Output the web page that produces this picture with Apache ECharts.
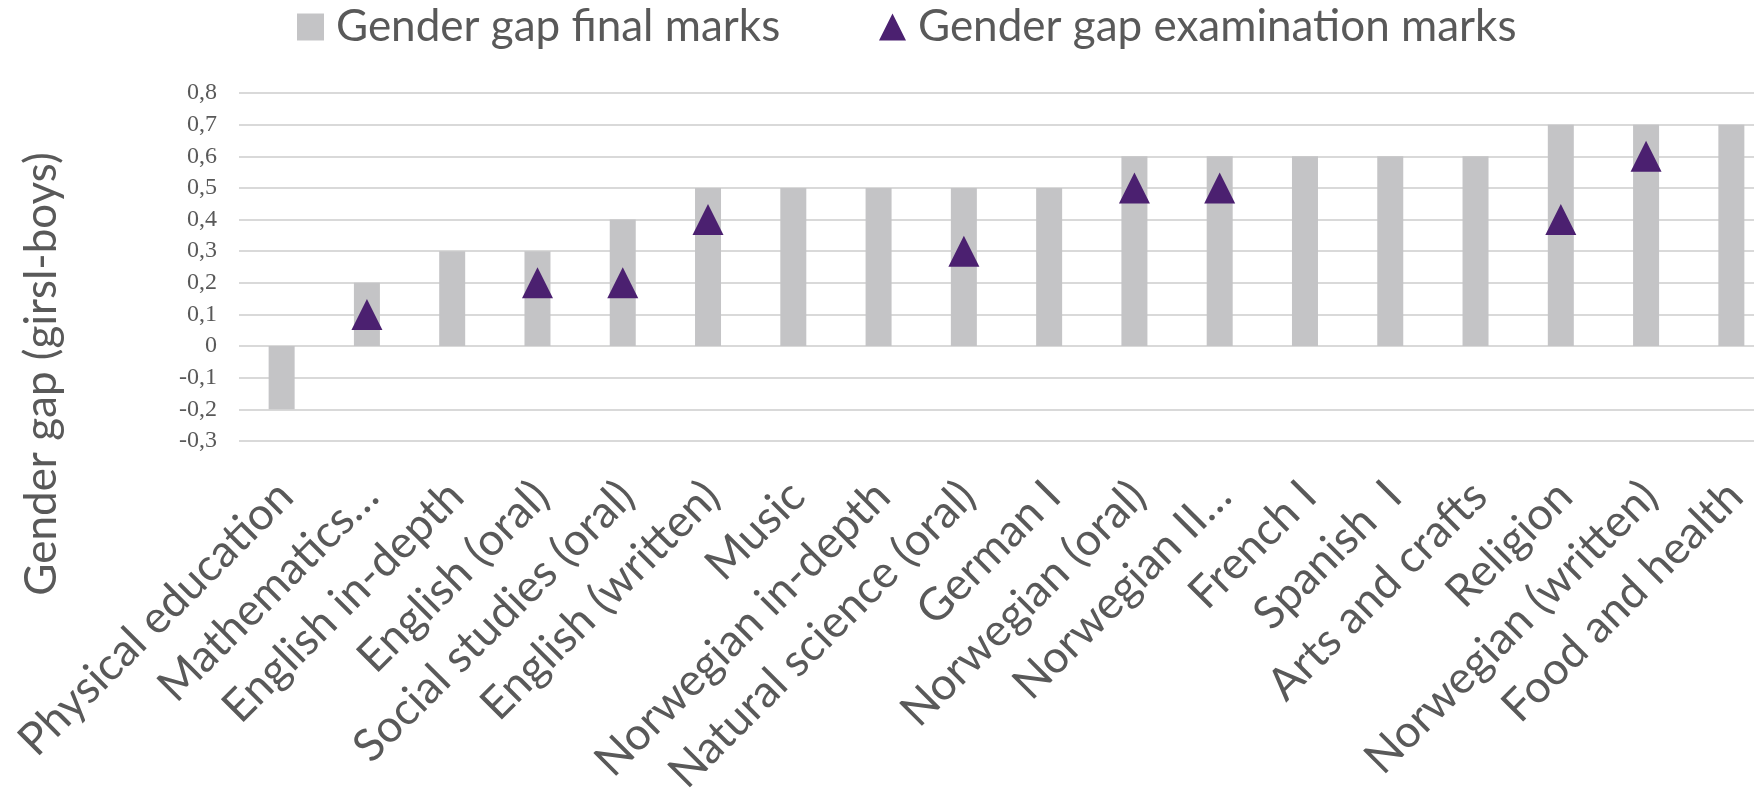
<!DOCTYPE html>
<html>
<head>
<meta charset="utf-8">
<script src="https://cdn.jsdelivr.net/npm/echarts@6/dist/echarts.min.js"></script>
<style>
  html, body { margin: 0; padding: 0; background: #fff; }
  #chart { width: 1754px; height: 796px; }
</style>
</head>
<body>
<div id="chart"></div>
<script>
var subjects = [
  "Physical education", "Mathematics…", "English in-depth", "English (oral)",
  "Social studies (oral)", "English (written)", "Music", "Norwegian in-depth",
  "Natural science (oral)", "German I", "Norwegian (oral)", "Norwegian II…",
  "French I", "Spanish  I", "Arts and crafts", "Religion",
  "Norwegian (written)", "Food and health"
];
var finalMarks = [-0.2, 0.2, 0.3, 0.3, 0.4, 0.5, 0.5, 0.5, 0.5, 0.5, 0.6, 0.6, 0.6, 0.6, 0.6, 0.7, 0.7, 0.7];
var examMarks = [null, 0.1, null, 0.2, 0.2, 0.4, null, null, 0.3, null, 0.5, 0.5, null, null, null, 0.4, 0.6, null];

var textColor = "#595959";
var sans = "Lato";

var chart = echarts.init(document.getElementById("chart"));
chart.setOption({
  animation: false,
  legend: [
    {
      left: 297, top: 5, padding: 0,
      itemWidth: 27, itemHeight: 27,
      icon: "rect",
      data: ["Gender gap final marks"],
      textStyle: { fontFamily: sans, fontSize: 44, color: textColor, padding: [0, 0, 0, 7] }
    },
    {
      left: 879, top: 5, padding: 0,
      itemWidth: 27, itemHeight: 27,
      icon: "triangle",
      data: ["Gender gap examination marks"],
      textStyle: { fontFamily: sans, fontSize: 44, color: textColor, padding: [0, 0, 0, 7] }
    }
  ],
  // plot runs past the right edge, like the original
  grid: { left: 239, top: 93, bottom: 355, width: 1535, outerBoundsMode: "none" },
  xAxis: {
    type: "category",
    data: subjects,
    axisLine: { show: false },
    axisTick: { show: false },
    axisLabel: {
      interval: 0,
      rotate: 45,
      margin: 20,
      align: "right",
      verticalAlign: "top",
      padding: [0, 17, 0, 0],
      fontFamily: sans,
      fontSize: 45,
      color: textColor
    }
  },
  yAxis: {
    type: "value",
    min: -0.3,
    max: 0.8,
    interval: 0.1,
    axisLine: { show: false },
    axisTick: { show: false },
    axisLabel: {
      margin: 22,
      fontFamily: "Liberation Serif",
      fontSize: 24,
      color: textColor,
      formatter: function (v) {
        if (Math.abs(v) < 1e-9) return "0";
        return v.toFixed(1).replace(".", ",");
      }
    },
    splitLine: { lineStyle: { color: "#D9D9D9", width: 2 } }
  },
  graphic: [
    {
      type: "text",
      x: 42, y: 374,
      rotation: Math.PI / 2,
      style: {
        text: "Gender gap (girsl-boys)",
        fontFamily: sans, fontSize: 44, fill: textColor,
        align: "center", verticalAlign: "middle"
      }
    }
  ],
  series: [
    {
      name: "Gender gap final marks",
      type: "bar",
      data: finalMarks,
      barWidth: 26,
      itemStyle: { color: "#C4C4C6" }
    },
    {
      name: "Gender gap examination marks",
      type: "scatter",
      data: examMarks,
      symbol: "triangle",
      symbolSize: [31, 31],
      itemStyle: { color: "#4B2070", opacity: 1 },
      z: 5
    }
  ]
});
</script>
</body>
</html>
